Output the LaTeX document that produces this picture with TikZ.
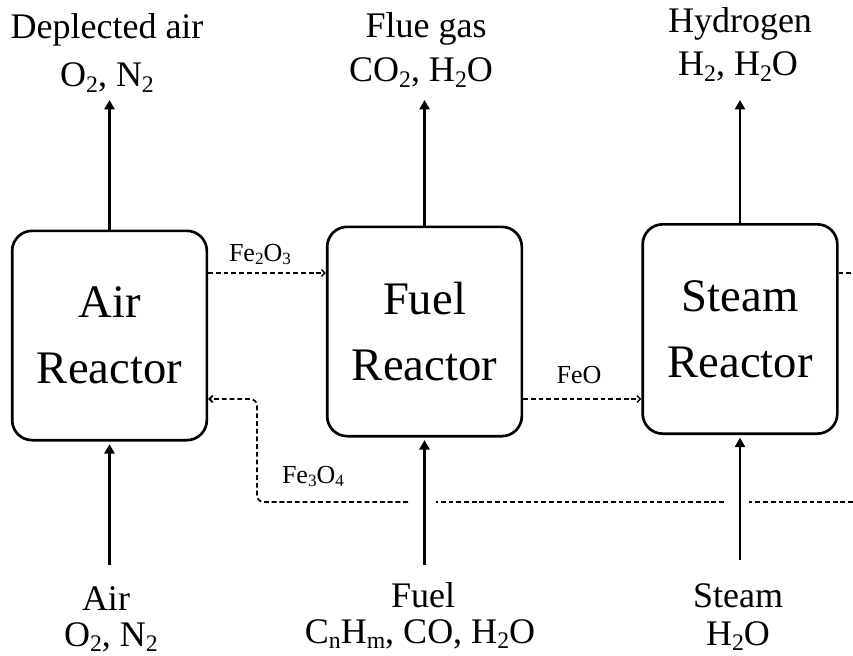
\documentclass[tikz,border=0pt]{standalone}
\usepackage{fontspec}
\setmainfont{Liberation Serif}
\usetikzlibrary{arrows.meta}
\newcommand{\csub}[1]{\raisebox{-0.14em}{\scalebox{0.66}{#1}}}

\begin{document}
\begin{tikzpicture}[x=0.75pt, y=-0.75pt,
  reactor/.style={draw, line width=2pt, rounded corners=15pt, minimum width=146pt, minimum height=157pt, inner sep=0pt, align=center, font=\fontsize{35}{49.5}\selectfont},
  stream/.style={line width=2pt, -{Triangle[length=7pt,width=7.5pt]}},
  oxide/.style={line width=1pt, dash pattern=on 3.6pt off 2.2pt, -{Straight Barb[length=2.5pt,width=5pt]}},
  lbl/.style={anchor=base, inner sep=0pt, font=\fontsize{27}{32}\selectfont},
  olbl/.style={anchor=base, inner sep=0pt, font=\fontsize{19.5}{24}\selectfont}]
\useasboundingbox (0,0) rectangle (853,656);
\node[reactor] (air) at (109.5,335.5) {Air\\Reactor};
\node[reactor] (fuel) at (424.5,331.5) {Fuel\\Reactor};
\node[reactor] (steam) at (740,329) {Steam\\Reactor};

% rows of the streams
\coordinate (outRow) at (0,100);
\coordinate (inRow) at (0,565);
\coordinate (upRow) at (0,273);
\coordinate (lowRow) at (0,399);

% outlets
\draw[stream] (air.north) -- (air.north |- outRow);
\draw[stream] (fuel.north) -- (fuel.north |- outRow);
\draw[stream] (steam.north) -- (steam.north |- outRow);
\node[lbl] (deplName) at (107,39) {Deplected air};
\node[lbl] (deplChem) at (107,87) {O\csub{2}, N\csub{2}};
\node[lbl] (flueName) at (426,38) {Flue gas};
\node[lbl] (flueChem) at (421,82) {CO\csub{2}, H\csub{2}O};
\node[lbl] (hydName) at (740,33) {Hydrogen};
\node[lbl] (hydChem) at (738,76) {H\csub{2}, H\csub{2}O};

% inlets
\draw[stream, shorten >=2pt] (air.south |- inRow) -- (air.south);
\draw[stream, shorten >=2pt] (fuel.south |- inRow) -- (fuel.south);
\draw[stream, shorten >=2pt] (steam.south |- 0,560) -- (steam.south);
\node[lbl] (airName) at (106,610) {Air};
\node[lbl] (airChem) at (111,646) {O\csub{2}, N\csub{2}};
\node[lbl] (fuelName) at (423,607) {Fuel};
\node[lbl] (fuelChem) at (420,643) {C\csub{n}H\csub{m}, CO, H\csub{2}O};
\node[lbl] (steamName) at (738,607) {Steam};
\node[lbl] (steamChem) at (738,645) {H\csub{2}O};

% oxygen carrier loop
\draw[oxide] (air.east |- upRow) -- (fuel.west |- upRow);
\node[olbl] (fe2o3) at (260,261) {Fe\csub{2}O\csub{3}};
\draw[oxide] (fuel.east |- lowRow) -- (steam.west |- lowRow);
\node[olbl] (feo) at (579,383) {FeO};
\coordinate (stubEnd) at (853,273);
\coordinate (retEnd) at (853,502);
\coordinate (gapSr) at (749,502);
\coordinate (gapSl) at (724,502);
\coordinate (gapFr) at (436,502);
\coordinate (gapFl) at (408,502);
\coordinate (retTurn) at (257,502);
\draw[oxide, -] (steam.east |- upRow) -- (stubEnd);
\draw[oxide, -] (retEnd) -- (gapSr);
\draw[oxide, -] (gapSl) -- (gapFr);
\draw[oxide, line width=1.3pt, rounded corners=5pt] (gapFl) -- (retTurn) |- (air.east |- lowRow);
\node[olbl] (fe3o4) at (313,483) {Fe\csub{3}O\csub{4}};
\end{tikzpicture}
\end{document}
